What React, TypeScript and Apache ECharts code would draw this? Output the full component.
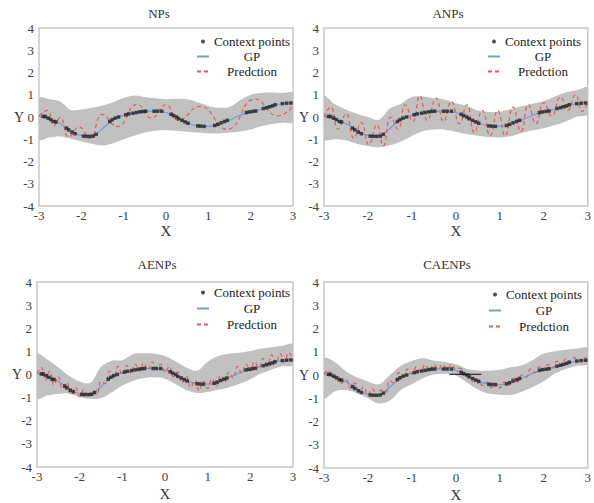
import React, { useEffect, useRef } from 'react';
import * as echarts from 'echarts';

const FONT = 'Liberation Serif';

const TITLES = ['NPs', 'ANPs', 'AENPs', 'CAENPs'];
const LEGEND_ITEMS = ['Context points', 'GP', 'Predction'];

// Shared x grid for the GP mean and the uncertainty bands
const BAND_X = [-3, -2.75, -2.5, -2.25, -2, -1.75, -1.5, -1.25, -1, -0.75, -0.5, -0.25, 0, 0.25, 0.5, 0.75, 1, 1.25, 1.5, 1.75, 2, 2.25, 2.5, 2.75, 3];
const GP_Y = [0.03, -0.1, -0.3, -0.6, -0.83, -0.84, -0.52, -0.12, 0.08, 0.19, 0.25, 0.27, 0.2, -0.02, -0.26, -0.4, -0.42, -0.34, -0.14, 0.08, 0.22, 0.35, 0.5, 0.6, 0.64];

// Context points (same in all four panels)
const CTX_X = [-2.9, -2.85, -2.78, -2.72, -2.65, -2.6, -2.35, -2.3, -2.22, -2.15, -1.95, -1.88, -1.8, -1.72, -1.65, -1.33, -1.27, -1.2, -1.12, -0.95, -0.88, -0.78, -0.7, -0.62, -0.55, -0.48, -0.28, -0.2, -0.1, 0.12, 0.18, 0.25, 0.3, 0.38, 0.45, 0.52, 0.75, 0.82, 0.9, 1.15, 1.22, 1.3, 1.38, 1.45, 1.9, 1.97, 2.05, 2.12, 2.3, 2.38, 2.45, 2.52, 2.58, 2.75, 2.85, 2.95];
const CTX_Y = [0.03, 0.02, -0.05, -0.12, -0.2, -0.22, -0.5, -0.58, -0.68, -0.75, -0.86, -0.87, -0.87, -0.86, -0.78, -0.2, -0.12, -0.05, 0.0, 0.1, 0.14, 0.17, 0.2, 0.23, 0.25, 0.26, 0.26, 0.26, 0.26, 0.12, 0.06, 0.0, -0.08, -0.15, -0.22, -0.28, -0.4, -0.41, -0.42, -0.38, -0.33, -0.26, -0.2, -0.15, 0.2, 0.23, 0.25, 0.27, 0.38, 0.42, 0.46, 0.5, 0.55, 0.6, 0.62, 0.63];

// Band upper / lower per panel
const UP1 = [0.85, 0.8, 0.7, 0.32, 0.34, 0.42, 0.52, 0.66, 0.85, 0.97, 0.9, 0.84, 0.8, 0.82, 0.8, 0.66, 0.5, 0.42, 0.45, 0.75, 1.0, 1.08, 1.1, 1.08, 1.07];
const LO1 = [-1.0, -0.92, -0.88, -0.98, -1.1, -1.2, -1.28, -1.18, -1.0, -0.84, -0.7, -0.62, -0.6, -0.62, -0.66, -0.7, -0.73, -0.74, -0.7, -0.65, -0.56, -0.42, -0.32, -0.26, -0.21];
const UP2 = [0.93, 0.57, 0.34, 0.15, 0.0, -0.12, 0.38, 0.6, 0.9, 0.92, 0.84, 0.78, 0.62, 0.5, 0.3, 0.22, 0.24, 0.36, 0.48, 0.6, 0.71, 0.92, 1.1, 1.2, 1.31];
const LO2 = [-1.0, -1.0, -1.04, -1.2, -1.3, -1.36, -1.27, -1.1, -0.85, -0.64, -0.56, -0.57, -0.66, -0.76, -0.84, -0.9, -0.92, -0.86, -0.72, -0.6, -0.5, -0.36, -0.2, 0.02, 0.14];
const UP3 = [0.89, 0.64, 0.3, -0.05, -0.3, -0.36, 0.32, 0.6, 0.62, 0.88, 0.92, 0.9, 0.8, 0.56, 0.3, 0.16, 0.55, 0.8, 0.9, 0.94, 1.02, 1.12, 1.18, 1.24, 1.3];
const LO3 = [-1.04, -0.9, -0.84, -0.82, -0.98, -1.05, -1.02, -0.78, -0.48, -0.28, -0.15, -0.12, -0.18, -0.42, -0.67, -0.8, -0.76, -0.66, -0.56, -0.4, -0.2, 0.04, 0.22, 0.36, 0.41];
const UP4 = [0.71, 0.55, 0.16, -0.1, -0.28, -0.4, 0.0, 0.4, 0.6, 0.72, 0.62, 0.56, 0.46, 0.27, 0.19, 0.19, 0.23, 0.33, 0.42, 0.65, 0.92, 1.02, 1.09, 1.14, 1.17];
const LO4 = [-1.0, -0.7, -0.65, -0.78, -1.0, -1.23, -1.1, -0.64, -0.4, -0.14, 0.02, 0.05, -0.02, -0.32, -0.62, -0.8, -0.85, -0.86, -0.72, -0.52, -0.27, 0.05, 0.26, 0.4, 0.47];

// Predictions
const PRED1_X = [-3, -2.8, -2.65, -2.5, -2.3, -2.05, -1.8, -1.5, -1.15, -0.68, -0.35, 0, 0.3, 0.8, 1.45, 2.1, 2.65, 3];
const PRED1_Y = [0.05, 0.3, -0.4, -0.02, -0.9, -0.45, -0.95, 0.12, -0.43, 0.57, -0.05, 0.55, -0.15, 0.48, -0.55, 0.8, 0.05, 0.5];
const PRED2_X = [-3, -2.85, -2.68, -2.5, -2.32, -2.15, -1.98, -1.8, -1.65, -1.48, -1.32, -1.15, -0.98, -0.82, -0.65, -0.45, -0.28, -0.1, 0.08, 0.25, 0.42, 0.6, 0.78, 0.95, 1.12, 1.3, 1.48, 1.65, 1.82, 2.0, 2.18, 2.38, 2.55, 2.72, 2.88, 3];
const PRED2_Y = [0.0, 0.45, -0.55, 0.15, -0.95, -0.25, -1.25, -0.35, -1.3, 0.0, -0.55, 0.55, -0.2, 0.95, -0.15, 0.85, -0.2, 0.7, -0.3, 0.55, -0.7, 0.3, -0.85, 0.3, -0.85, 0.45, -0.65, 0.55, -0.3, 0.65, 0.05, 0.9, 0.3, 1.0, 0.25, 0.7];
const FINE_X = [-3, -2.9, -2.8, -2.7, -2.6, -2.5, -2.4, -2.3, -2.2, -2.1, -2, -1.9, -1.8, -1.7, -1.6, -1.5, -1.4, -1.3, -1.2, -1.1, -1, -0.9, -0.8, -0.7, -0.6, -0.5, -0.4, -0.3, -0.2, -0.1, 0, 0.1, 0.2, 0.3, 0.4, 0.5, 0.6, 0.7, 0.8, 0.9, 1, 1.1, 1.2, 1.3, 1.4, 1.5, 1.6, 1.7, 1.8, 1.9, 2, 2.1, 2.2, 2.3, 2.4, 2.5, 2.6, 2.7, 2.8, 2.9, 3];
const PRED3_Y = [0.05, 0.3, -0.25, 0.15, -0.45, -0.1, -0.6, -0.35, -0.85, -0.55, -0.95, -0.65, -0.95, -0.7, -0.85, -0.3, -0.4, 0.15, -0.15, 0.35, 0.0, 0.4, 0.05, 0.45, 0.15, 0.5, 0.2, 0.55, 0.25, 0.45, 0.1, 0.35, -0.1, 0.1, -0.35, -0.1, -0.55, -0.25, -0.7, -0.3, -0.6, -0.2, -0.5, -0.05, -0.35, 0.1, -0.15, 0.35, 0.05, 0.45, 0.15, 0.55, 0.3, 0.7, 0.4, 0.85, 0.5, 0.9, 0.55, 0.95, 0.6];
const PRED4_Y = [0.05, 0.2, -0.1, 0.0, -0.35, -0.2, -0.55, -0.35, -0.7, -0.5, -0.85, -0.6, -0.9, -0.65, -0.75, -0.25, -0.35, 0.1, -0.05, 0.25, 0.05, 0.35, 0.15, 0.45, 0.2, 0.45, 0.25, 0.45, 0.25, 0.45, 0.25, 0.3, 0.0, 0.05, -0.3, -0.2, -0.45, -0.3, -0.55, -0.35, -0.55, -0.3, -0.45, -0.15, -0.3, 0.0, -0.1, 0.25, 0.1, 0.35, 0.2, 0.45, 0.3, 0.6, 0.4, 0.7, 0.55, 0.75, 0.6, 0.75, 0.65];

// Small stray segment visible in the CAENPs panel
const MARK4_X = [-0.15, 0.58];
const MARK4_Y = [0.03, 0.03];

const BANDS = [[UP1, LO1], [UP2, LO2], [UP3, LO3], [UP4, LO4]];
const PREDS = [[PRED1_X, PRED1_Y], [PRED2_X, PRED2_Y], [FINE_X, PRED3_Y], [FINE_X, PRED4_Y]];

const GRIDS = [
  { left: 39, top: 28, width: 254, height: 178 },
  { left: 324, top: 28, width: 265, height: 178 },
  { left: 37, top: 282, width: 256, height: 185 },
  { left: 324, top: 282, width: 265, height: 186 },
];
const TITLE_POS = [[159, 13], [448, 13], [157, 264], [447, 264]];
const LEGEND_POS = [[196, 35, 2], [487, 35, 2], [196, 286, 3], [488, 288, 3]];
const X_NAME_GAP = [17, 17, 19, 19];

const BAND_COLOR = '#c1c1c1';
const GP_COLOR = '#6f9fd3';
const PRED_COLOR = '#e25a5c';
const PT_COLOR = '#222222';

const zip = (xs: number[], ys: number[]) => xs.map((x, i) => [x, ys[i]]);

export default function App() {
  const ref = useRef<HTMLDivElement>(null);
  useEffect(() => {
    document.body.style.margin = '0';
    if (!ref.current) return;
    const chart = echarts.init(ref.current, undefined, { renderer: 'svg' });

    const series: any[] = [];
    for (let i = 0; i < 4; i++) {
      const [up, lo] = BANDS[i];
      series.push({
        type: 'custom', xAxisIndex: i, yAxisIndex: i, silent: true, z: 1,
        encode: { x: 0, y: [1, 2] },
        data: BAND_X.map((x, k) => [x, lo[k], up[k]]),
        renderItem: (params: any, api: any) => {
          if (params.dataIndex !== 0) return null;
          const top = BAND_X.map((x, k) => api.coord([x, up[k]]));
          const bot = BAND_X.map((x, k) => api.coord([x, lo[k]])).reverse();
          const cs = params.coordSys;
          return {
            type: 'polygon',
            shape: { points: top.concat(bot), smooth: 0.35, smoothConstraint: [[cs.x, cs.y], [cs.x + cs.width, cs.y + cs.height]] },
            style: { fill: BAND_COLOR, stroke: 'none' },
          };
        },
      });
      series.push({
        name: 'GP', type: 'line', xAxisIndex: i, yAxisIndex: i, smooth: 0.4,
        symbol: 'none', z: 2,
        lineStyle: { color: GP_COLOR, width: 1.2 }, itemStyle: { color: GP_COLOR },
        data: zip(BAND_X, GP_Y),
      });
      series.push({
        name: 'Predction', type: 'line', xAxisIndex: i, yAxisIndex: i, smooth: 0.5,
        symbol: 'none', z: 3,
        lineStyle: { color: PRED_COLOR, width: 1.2, type: [4, 3] }, itemStyle: { color: PRED_COLOR },
        data: zip(PREDS[i][0], PREDS[i][1]),
      });
      series.push({
        name: 'Context points', type: 'scatter', xAxisIndex: i, yAxisIndex: i,
        symbol: 'rect', symbolSize: 3.5, z: 4,
        itemStyle: { color: PT_COLOR },
        data: zip(CTX_X, CTX_Y),
      });
    }
    series.push({
      type: 'line', xAxisIndex: 3, yAxisIndex: 3, symbol: 'none', silent: true, z: 5,
      lineStyle: { color: '#111', width: 1 },
      data: zip(MARK4_X, MARK4_Y),
    });

    const option: any = {
      animation: false,
      textStyle: { fontFamily: FONT },
      grid: GRIDS.map((g) => ({ ...g, show: true, borderColor: '#c6c6c6', borderWidth: 1.5, backgroundColor: 'transparent' })),
      xAxis: GRIDS.map((_, i) => ({
        type: 'value', gridIndex: i, min: -3, max: 3, interval: 1,
        name: 'X', nameLocation: 'middle', nameGap: X_NAME_GAP[i], nameMoveOverlap: false,
        nameTextStyle: { fontFamily: FONT, fontSize: 15, color: '#333' },
        axisLine: { show: false }, axisTick: { show: false }, splitLine: { show: false },
        axisLabel: { fontFamily: FONT, fontSize: 13, color: '#404040', margin: 3 },
      })),
      yAxis: GRIDS.map((_, i) => ({
        type: 'value', gridIndex: i, min: -4, max: 4, interval: 1,
        name: 'Y', nameLocation: 'middle', nameRotate: 0, nameGap: 15, nameMoveOverlap: false,
        nameTextStyle: { fontFamily: FONT, fontSize: 14, color: '#333' },
        axisLine: { show: false }, axisTick: { show: false }, splitLine: { show: false },
        axisLabel: { fontFamily: FONT, fontSize: 13, color: '#404040', margin: 5 },
      })),
      legend: LEGEND_POS.map(([x, y, gap]) => ({
        left: x, top: y, orient: 'vertical', padding: 0, itemGap: gap,
        itemWidth: 12, itemHeight: 4, selectedMode: false,
        data: [
          { name: LEGEND_ITEMS[0], icon: 'circle' },
          { name: LEGEND_ITEMS[1], itemStyle: { opacity: 0 } },
          { name: LEGEND_ITEMS[2], itemStyle: { opacity: 0 } },
        ],
        formatter: (n: string) => `{t|${n}}`,
        textStyle: { fontFamily: FONT, rich: { t: { width: 76, align: 'center', fontFamily: FONT, fontSize: 13, color: '#222', lineHeight: 14 } } },
      })),
      graphic: TITLES.map((t, i) => ({
        type: 'text', x: TITLE_POS[i][0], y: TITLE_POS[i][1],
        style: { text: t, align: 'center', verticalAlign: 'middle', fontFamily: FONT, fontSize: 13, fill: '#333' },
      })),
      series,
    };
    chart.setOption(option);
    return () => chart.dispose();
  }, []);
  return <div ref={ref} style={{ position: 'absolute', left: 0, top: 0, width: 594, height: 503 }} />;
}
